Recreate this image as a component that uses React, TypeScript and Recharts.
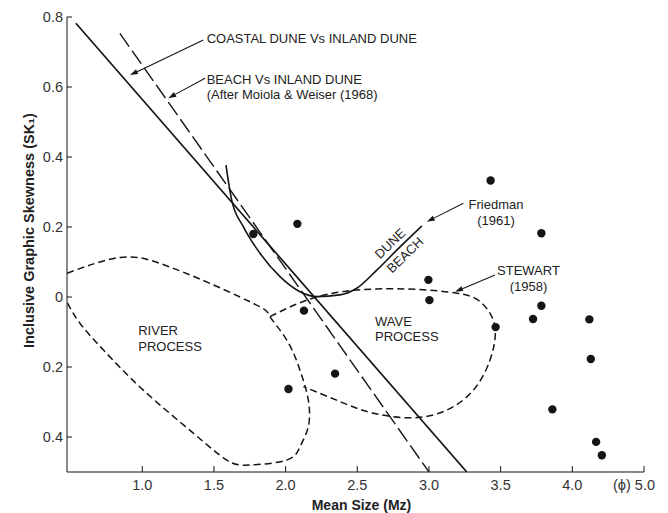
import React from 'react';
import { ComposedChart, Line, Scatter, XAxis, YAxis, ReferenceLine, ReferenceDot } from 'recharts';

type Pt = { x: number; y: number };

const xTicks = [1, 1.5, 2, 2.5, 3, 3.5, 4, 4.5];
const yTicks = [-0.4, -0.2, 0, 0.2, 0.4, 0.6, 0.8];

// sample means / skewness
const samples: Pt[] = [
  { x: 1.775, y: 0.18 },
  { x: 2.082, y: 0.209 },
  { x: 3.43, y: 0.333 },
  { x: 2.996, y: 0.049 },
  { x: 3.003, y: -0.009 },
  { x: 2.128, y: -0.039 },
  { x: 3.465, y: -0.086 },
  { x: 3.784, y: 0.182 },
  { x: 3.784, y: -0.025 },
  { x: 3.726, y: -0.063 },
  { x: 3.861, y: -0.321 },
  { x: 2.345, y: -0.219 },
  { x: 2.02, y: -0.263 },
  { x: 4.119, y: -0.064 },
  { x: 4.129, y: -0.177 },
  { x: 4.166, y: -0.414 },
  { x: 4.206, y: -0.452 },
];

const coastalVsInland: Pt[] = [
  { x: 0.537, y: 0.782 },
  { x: 3.264, y: -0.5 },
];

const beachVsInland: Pt[] = [
  { x: 0.844, y: 0.753 },
  { x: 3.0, y: -0.5 },
];

const friedman: Pt[] = [
  { x: 1.584, y: 0.377 },
  { x: 1.624, y: 0.277 },
  { x: 1.705, y: 0.201 },
  { x: 1.821, y: 0.125 },
  { x: 1.961, y: 0.058 },
  { x: 2.1, y: 0.015 },
  { x: 2.217, y: 0.001 },
  { x: 2.379, y: 0.006 },
  { x: 2.496, y: 0.025 },
  { x: 2.636, y: 0.077 },
  { x: 2.8, y: 0.144 },
  { x: 2.95, y: 0.203 },
];

const riverProcess: Pt[] = [
  { x: 0.475, y: 0.068 },
  { x: 0.844, y: 0.113 },
  { x: 1.124, y: 0.096 },
  { x: 1.472, y: 0.039 },
  { x: 1.821, y: -0.028 },
  { x: 1.891, y: -0.056 },
  { x: 2.008, y: -0.123 },
  { x: 2.1, y: -0.209 },
  { x: 2.158, y: -0.294 },
  { x: 2.158, y: -0.371 },
  { x: 2.1, y: -0.428 },
  { x: 2.008, y: -0.466 },
  { x: 1.752, y: -0.48 },
  { x: 1.589, y: -0.466 },
  { x: 1.356, y: -0.389 },
  { x: 1.007, y: -0.266 },
  { x: 0.728, y: -0.151 },
  { x: 0.565, y: -0.075 },
  { x: 0.475, y: -0.015 },
];

const waveProcess: Pt[] = [
  { x: 1.891, y: -0.056 },
  { x: 2.147, y: -0.009 },
  { x: 2.448, y: 0.018 },
  { x: 2.845, y: 0.023 },
  { x: 3.194, y: 0.011 },
  { x: 3.357, y: -0.013 },
  { x: 3.438, y: -0.056 },
  { x: 3.463, y: -0.104 },
  { x: 3.426, y: -0.18 },
  { x: 3.31, y: -0.266 },
  { x: 3.124, y: -0.323 },
  { x: 2.891, y: -0.345 },
  { x: 2.612, y: -0.332 },
  { x: 2.38, y: -0.299 },
  { x: 2.124, y: -0.256 },
];

const arrows: [Pt, Pt][] = [
  [{ x: 1.426, y: 0.734 }, { x: 0.914, y: 0.634 }],
  [{ x: 1.438, y: 0.625 }, { x: 1.181, y: 0.568 }],
  [{ x: 3.24, y: 0.268 }, { x: 2.985, y: 0.215 }],
  [{ x: 3.461, y: 0.063 }, { x: 3.182, y: 0.015 }],
];

const leftNotes = [
  { text: 'COASTAL DUNE Vs INLAND DUNE', x: 1.449, y: 0.74 },
  { text: 'BEACH Vs INLAND DUNE', x: 1.449, y: 0.622 },
  { text: '(After Moiola & Weiser (1968)', x: 1.449, y: 0.579 },
  { text: 'RIVER', x: 0.972, y: -0.096 },
  { text: 'PROCESS', x: 0.972, y: -0.142 },
  { text: 'WAVE', x: 2.624, y: -0.071 },
  { text: 'PROCESS', x: 2.624, y: -0.113 },
];

const centerNotes = [
  { text: 'Friedman', x: 3.468, y: 0.265 },
  { text: '(1961)', x: 3.468, y: 0.22 },
  { text: 'STEWART', x: 3.694, y: 0.077 },
  { text: '(1958)', x: 3.694, y: 0.029 },
];

const curveNotes = [
  { text: 'DUNE', x: 2.729, y: 0.153 },
  { text: 'BEACH', x: 2.833, y: 0.12 },
];

const INK = '#151515';
const FONT = '"Liberation Sans", Arial, sans-serif';

const ArrowShape = (p: any) => {
  const { x1, y1, x2, y2 } = p;
  const a = Math.atan2(y2 - y1, x2 - x1);
  const L = 8;
  const W = 2.6;
  const bx = x2 - L * Math.cos(a);
  const by = y2 - L * Math.sin(a);
  const pts = `${x2},${y2} ${bx + W * Math.sin(a)},${by - W * Math.cos(a)} ${bx - W * Math.sin(a)},${by + W * Math.cos(a)}`;
  return (
    <g>
      <line x1={x1} y1={y1} x2={bx} y2={by} stroke={INK} strokeWidth={1.1} />
      <polygon points={pts} fill={INK} />
    </g>
  );
};

const XTick = (p: any) => {
  const v = p.payload.value;
  const last = v === 4.5;
  return (
    <text x={p.x + (last ? -10 : 0)} y={p.y} dy="0.71em" textAnchor="middle" fontSize={14.5} fill="#333" fontFamily={FONT}>
      {last ? '(ϕ) 5.0' : v.toFixed(1)}
    </text>
  );
};

export default function App() {
  return (
    <div style={{ position: 'absolute', left: 0, top: 0, background: '#fff' }}>
      <ComposedChart width={668} height={513} margin={{ top: 17, right: 24, bottom: 0, left: 0 }} style={{ fontFamily: FONT }}>
        <XAxis
          type="number"
          dataKey="x"
          domain={[0.475, 4.5]}
          ticks={xTicks}
          allowDataOverflow
          height={41}
          stroke={INK}
          tickSize={-6}
          tickMargin={14}
          tick={<XTick />}
          label={{
            content: (lp: any) => {
              const vb = lp.viewBox;
              return (
                <text x={vb.x + vb.width / 2 + 6} y={vb.y + 33} dy="0.35em" textAnchor="middle" fontSize={14} fontWeight="bold" fill="#222" fontFamily={FONT}>
                  Mean Size (Mz)
                </text>
              );
            },
          }}
        />
        <YAxis
          type="number"
          dataKey="y"
          domain={[-0.5, 0.8]}
          ticks={yTicks}
          allowDataOverflow
          width={67}
          stroke={INK}
          tickSize={-5}
          tickMargin={9}
          tick={{ fontSize: 14.5, fill: '#333' }}
          tickFormatter={(v: number) => (v === 0 ? '0' : Math.abs(v).toFixed(1))}
          label={{
            content: (lp: any) => {
              const vb = lp.viewBox;
              const cx = vb.x + 29;
              const cy = vb.y + vb.height / 2 - 14;
              return (
                <text x={cx} y={cy} dy="0.35em" textAnchor="middle" fontSize={14.5} fontWeight="bold" fill="#222" fontFamily={FONT} transform={`rotate(-90 ${cx} ${cy})`}>
                  Inclusive Graphic Skewness (SK₁)
                </text>
              );
            },
          }}
        />
        <Line data={riverProcess} dataKey="y" type="natural" stroke={INK} strokeWidth={1.5} strokeDasharray="7 4" dot={false} isAnimationActive={false} />
        <Line data={waveProcess} dataKey="y" type="natural" stroke={INK} strokeWidth={1.5} strokeDasharray="7 4" dot={false} isAnimationActive={false} />
        <Line data={beachVsInland} dataKey="y" type="linear" stroke={INK} strokeWidth={1.4} strokeDasharray="16 5" dot={false} isAnimationActive={false} />
        <Line data={coastalVsInland} dataKey="y" type="linear" stroke={INK} strokeWidth={1.7} dot={false} isAnimationActive={false} />
        <Line data={friedman} dataKey="y" type="monotone" stroke={INK} strokeWidth={1.6} dot={false} isAnimationActive={false} />
        <Scatter
          data={samples}
          fill={INK}
          isAnimationActive={false}
          shape={(p: any) => <circle cx={p.cx} cy={p.cy} r={4.2} fill={INK} />}
        />
        {arrows.map((seg, i) => (
          <ReferenceLine key={`a${i}`} segment={seg} ifOverflow="visible" shape={ArrowShape} />
        ))}
        {leftNotes.map((n, i) => (
          <ReferenceDot
            key={`l${i}`}
            x={n.x}
            y={n.y}
            r={0}
            ifOverflow="visible"
            shape={(p: any) => (
              <text x={p.cx} y={p.cy} dy="0.35em" textAnchor="start" fontSize={13} fill="#222" fontFamily={FONT}>
                {n.text}
              </text>
            )}
          />
        ))}
        {centerNotes.map((n, i) => (
          <ReferenceDot
            key={`c${i}`}
            x={n.x}
            y={n.y}
            r={0}
            ifOverflow="visible"
            shape={(p: any) => (
              <text x={p.cx} y={p.cy} dy="0.35em" textAnchor="middle" fontSize={13} fill="#222" fontFamily={FONT}>
                {n.text}
              </text>
            )}
          />
        ))}
        {curveNotes.map((n, i) => (
          <ReferenceDot
            key={`d${i}`}
            x={n.x}
            y={n.y}
            r={0}
            ifOverflow="visible"
            shape={(p: any) => (
              <text
                x={p.cx}
                y={p.cy}
                dy="0.35em"
                textAnchor="middle"
                fontSize={13}
                fill="#222"
                fontFamily={FONT}
                transform={`rotate(-44 ${p.cx} ${p.cy})`}
              >
                {n.text}
              </text>
            )}
          />
        ))}
      </ComposedChart>
    </div>
  );
}
